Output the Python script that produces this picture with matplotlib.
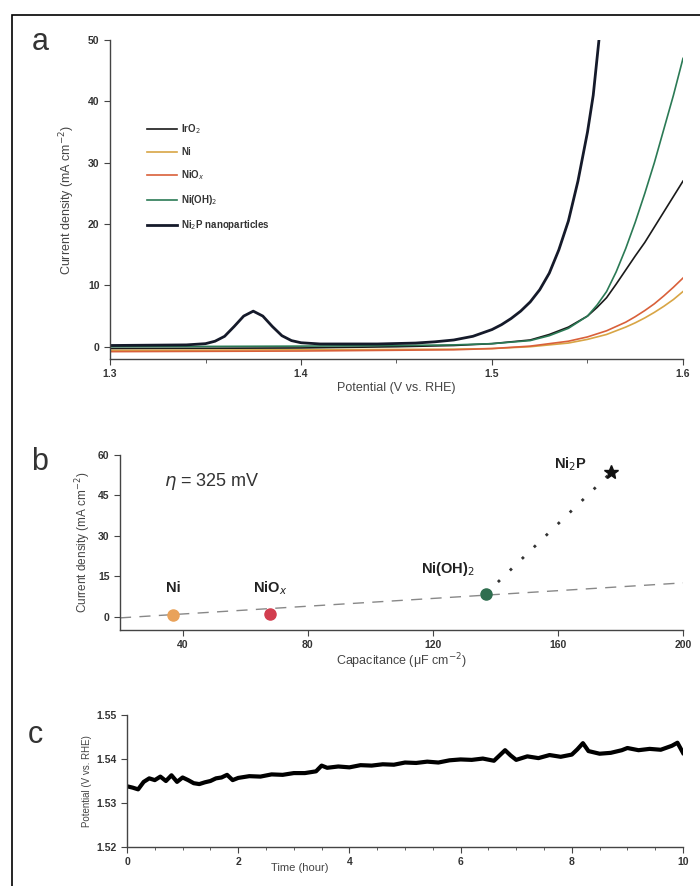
import numpy as np
import matplotlib.pyplot as plt
from matplotlib.patches import Rectangle

# ---- panel a: LSV curves (V vs RHE, mA cm-2)
v_ni2p = [1.30, 1.34, 1.35, 1.355, 1.36, 1.365, 1.370, 1.375, 1.380, 1.385, 1.39, 1.395, 1.40, 1.41,
          1.44, 1.46, 1.47, 1.48, 1.49, 1.50, 1.505, 1.51, 1.515, 1.52, 1.525, 1.53, 1.535, 1.54,
          1.545, 1.55, 1.553, 1.556]
j_ni2p = [0.2, 0.3, 0.5, 0.9, 1.7, 3.3, 5.0, 5.8, 5.0, 3.3, 1.8, 1.0, 0.65, 0.45,
          0.45, 0.6, 0.8, 1.1, 1.7, 2.8, 3.6, 4.6, 5.8, 7.3, 9.3, 12.0, 15.8, 20.5,
          27.0, 35.0, 41.0, 50.0]

v_ohx = [1.30, 1.40, 1.45, 1.48, 1.50, 1.52, 1.53, 1.54, 1.55, 1.555, 1.56, 1.565, 1.57, 1.575,
         1.58, 1.585, 1.59, 1.595, 1.60]
j_ohx = [0.0, 0.1, 0.2, 0.3, 0.5, 1.0, 1.8, 3.0, 5.0, 6.8, 9.0, 12.2, 16.0, 20.3,
         25.0, 30.0, 35.5, 41.0, 47.0]

v_iro2 = [1.30, 1.40, 1.45, 1.48, 1.50, 1.52, 1.53, 1.54, 1.55, 1.555, 1.56, 1.565, 1.57, 1.575,
          1.58, 1.585, 1.59, 1.595, 1.60]
j_iro2 = [-0.3, -0.2, 0.0, 0.2, 0.5, 1.1, 2.0, 3.2, 5.0, 6.4, 8.0, 10.2, 12.5, 14.8,
          17.0, 19.5, 22.0, 24.5, 27.0]

v_niox = [1.30, 1.40, 1.48, 1.50, 1.52, 1.54, 1.55, 1.56, 1.565, 1.57, 1.575, 1.58, 1.585, 1.59,
          1.595, 1.60]
j_niox = [-0.8, -0.7, -0.5, -0.3, 0.1, 0.9, 1.6, 2.6, 3.3, 4.0, 4.9, 5.9, 7.0, 8.3,
          9.7, 11.2]

v_ni = [1.30, 1.40, 1.48, 1.50, 1.52, 1.54, 1.55, 1.56, 1.565, 1.57, 1.575, 1.58, 1.585, 1.59,
        1.595, 1.60]
j_ni = [-0.6, -0.5, -0.4, -0.3, 0.0, 0.6, 1.2, 2.0, 2.6, 3.2, 3.9, 4.7, 5.6, 6.6,
        7.7, 9.0]

# ---- panel b: current at eta = 325 mV vs capacitance
cap = [37, 68, 137, 177]
cur = [0.5, 1.0, 8.5, 53.5]
cat_names = ['Ni', 'NiO$_x$', 'Ni(OH)$_2$', 'Ni$_2$P']
lab_x = [37, 68, 125, 164]
lab_y = [10.5, 10.5, 17.5, 56.5]
fit_x = [20, 200]
fit_y = [-0.5, 12.5]

# ---- panel c: chronopotentiometry
t_h = [0.0, 0.1, 0.2, 0.3, 0.4, 0.5, 0.6, 0.7, 0.8, 0.9, 1.0, 1.1, 1.2, 1.3, 1.4, 1.5, 1.6, 1.7,
       1.8, 1.9, 2.0, 2.2, 2.4, 2.6, 2.8, 3.0, 3.2, 3.4, 3.5, 3.6, 3.8, 4.0, 4.2, 4.4, 4.6, 4.8,
       5.0, 5.2, 5.4, 5.6, 5.8, 6.0, 6.2, 6.4, 6.6, 6.8, 6.9, 7.0, 7.2, 7.4, 7.6, 7.8, 8.0,
       8.1, 8.2, 8.3, 8.5, 8.7, 8.9, 9.0, 9.2, 9.4, 9.6, 9.8, 9.9, 10.0]
pot = [1.5338, 1.5335, 1.5331, 1.5348, 1.5356, 1.5352, 1.5360, 1.5350, 1.5363, 1.5348, 1.5358, 1.5352,
       1.5345, 1.5343, 1.5347, 1.5350, 1.5356, 1.5358, 1.5364, 1.5352, 1.5357, 1.5361, 1.5360, 1.5365,
       1.5364, 1.5368, 1.5368, 1.5372, 1.5385, 1.5380, 1.5383, 1.5381, 1.5386, 1.5385, 1.5388, 1.5387,
       1.5392, 1.5391, 1.5394, 1.5392, 1.5397, 1.5399, 1.5398, 1.5401, 1.5396, 1.5420, 1.5408, 1.5398,
       1.5406, 1.5402, 1.5409, 1.5405, 1.5410, 1.5422, 1.5436, 1.5418, 1.5412, 1.5414, 1.5420, 1.5425,
       1.5420, 1.5423, 1.5421, 1.5430, 1.5437, 1.5414]

plt.rcParams['font.family'] = ['Liberation Sans', 'DejaVu Sans']
tick_c = '#333333'

fig = plt.figure(figsize=(7, 8.86), dpi=100)
fig.patches.append(Rectangle((12 / 700, -0.01), 1.0, 1 - 15 / 886 + 0.01, transform=fig.transFigure,
                             fill=False, edgecolor='black', linewidth=1.2))


def style(ax):
    for s in ['top', 'right']:
        ax.spines[s].set_visible(False)
    for s in ['left', 'bottom']:
        ax.spines[s].set_color('#444444')
        ax.spines[s].set_linewidth(1.0)
    ax.tick_params(direction='out', length=4, width=0.8, colors='#444444', labelcolor=tick_c,
                   labelsize=7.5)
    for lab in ax.get_xticklabels() + ax.get_yticklabels():
        lab.set_fontweight('bold')


# ---- a
ax = fig.add_axes([110 / 700, 1 - 359 / 886, 573 / 700, 319 / 886])
ax.plot(v_iro2, j_iro2, color='#1a1a1a', lw=1.2, label='IrO$_2$')
ax.plot(v_ni, j_ni, color='#d8a545', lw=1.2, label='Ni')
ax.plot(v_niox, j_niox, color='#d9603a', lw=1.2, label='NiO$_x$')
ax.plot(v_ohx, j_ohx, color='#2b7a55', lw=1.2, label='Ni(OH)$_2$')
ax.plot(v_ni2p, j_ni2p, color='#151a2a', lw=2.0, label='Ni$_2$P nanoparticles')
ax.set_xlim(1.3, 1.6)
ax.set_ylim(-2, 50)
ax.set_xticks([1.3, 1.4, 1.5, 1.6])
ax.set_xticks([1.35, 1.45, 1.55], minor=True)
ax.set_yticks([0, 10, 20, 30, 40, 50])
style(ax)
ax.tick_params(which='minor', length=3, colors='#444444')
ax.set_xlabel('Potential (V vs. RHE)', fontsize=9, color='#444444', labelpad=2)
ax.set_ylabel('Current density (mA cm$^{-2}$)', fontsize=9, color='#444444', labelpad=8)
leg = ax.legend(loc='upper left', bbox_to_anchor=(0.05, 0.77), frameon=False, fontsize=7,
                handlelength=3.0, labelspacing=1.15, handletextpad=0.5)
for txt in leg.get_texts():
    txt.set_fontweight('bold')
    txt.set_color('#333333')
fig.text(40 / 700, 1 - 42 / 886, 'a', fontsize=22, ha='center', va='center', color='#333333')

# ---- b
bx = fig.add_axes([120 / 700, 1 - 630 / 886, 563 / 700, 175 / 886])
bx.plot(fit_x, fit_y, color='#888888', lw=1.0, dashes=(8, 6), zorder=1)
bx.plot(cap[2:], cur[2:], color='#333333', lw=2.0, linestyle=(0, (1, 5)), zorder=1)
pt_cols = ['#e9a25a', '#d23d4e', '#2f6e4f']
for i in range(3):
    bx.plot(cap[i], cur[i], 'o', ms=8, color=pt_cols[i], zorder=3)
bx.plot(cap[3], cur[3], '*', ms=10, color='#111111', zorder=3)
for i in range(4):
    bx.text(lab_x[i], lab_y[i], cat_names[i], fontsize=10.5,
            fontweight='bold', ha='center', va='center', color='#222222')
bx.text(34, 50, r'$\eta$ = 325 mV', fontsize=13, color='#333333', va='center')
bx.set_xlim(20, 200)
bx.set_ylim(-5, 60)
bx.set_xticks([40, 80, 120, 160, 200])
bx.set_yticks([0, 15, 30, 45, 60])
style(bx)
bx.set_xlabel('Capacitance (\u03bcF cm$^{-2}$)', fontsize=9, color='#444444', labelpad=1)
bx.set_ylabel('Current density (mA cm$^{-2}$)', fontsize=8.5, color='#444444', labelpad=4)
fig.text(40 / 700, 1 - 462 / 886, 'b', fontsize=22, ha='center', va='center', color='#333333')

# ---- c
cx = fig.add_axes([127 / 700, 1 - 847 / 886, 556 / 700, 132 / 886])
cx.plot(t_h, pot, color='black', lw=3.0)
cx.set_xlim(0, 10)
cx.set_ylim(1.52, 1.55)
cx.set_xticks([0, 2, 4, 6, 8, 10])
cx.set_xticks(np.arange(0, 10.01, 0.5), minor=True)
cx.set_yticks([1.52, 1.53, 1.54, 1.55])
cx.set_yticklabels(['1.52', '1.53', '1.54', '1.55'])
style(cx)
cx.tick_params(which='minor', length=2.5, colors='#444444')
cx.set_xlabel('Time (hour)', fontsize=8, color='#444444')
cx.xaxis.set_label_coords(0.31, -0.12)
cx.set_ylabel('Potential (V vs. RHE)', fontsize=7, color='#444444', labelpad=3)
fig.text(35 / 700, 1 - 735 / 886, 'c', fontsize=22, ha='center', va='center', color='#333333')

fig.savefig('out.png', dpi=100)
